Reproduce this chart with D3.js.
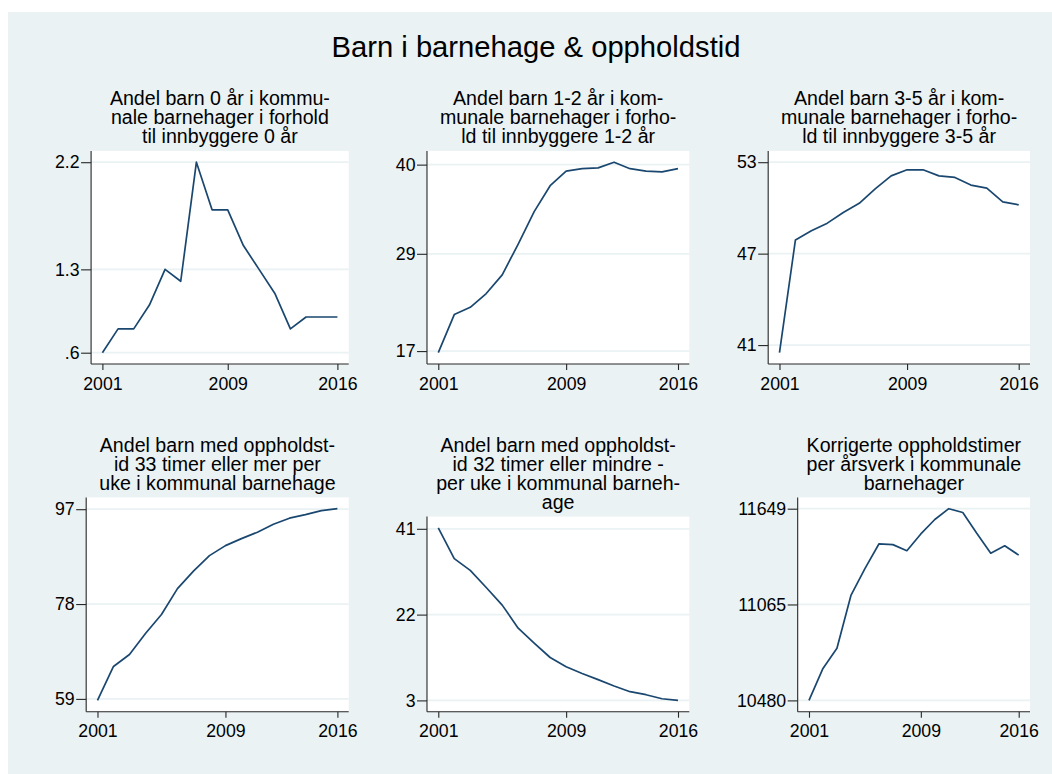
<!DOCTYPE html>
<html><head><meta charset="utf-8">
<script src="https://cdn.jsdelivr.net/npm/d3@7"></script>
<style>body{margin:0;background:#fff}svg text{font-family:"Liberation Sans",Arial,Helvetica,sans-serif;fill:#000}</style>
</head><body><svg id="c" width="1052" height="774"></svg>
<script>
// ---------- data ----------
const years = [2001,2002,2003,2004,2005,2006,2007,2008,2009,2010,2011,2012,2013,2014,2015,2016];
const xTickValues = [2001, 2009, 2016];
const mainTitle = "Barn i barnehage & oppholdstid";

const title0 = ["Andel barn 0 år i kommu-", "nale barnehager i forhold", "til innbyggere 0 år"];
const title1 = ["Andel barn 1-2 år i kom-", "munale barnehager i forho-", "ld til innbyggere 1-2 år"];
const title2 = ["Andel barn 3-5 år i kom-", "munale barnehager i forho-", "ld til innbyggere 3-5 år"];
const title3 = ["Andel barn med oppholdst-", "id 33 timer eller mer per", "uke i kommunal barnehage"];
const title4 = ["Andel barn med oppholdst-", "id 32 timer eller mindre -", "per uke i kommunal barneh-", "age"];
const title5 = ["Korrigerte oppholdstimer", "per årsverk i kommunale", "barnehager"];

const andel0  = [0.6,0.8,0.8,1.0,1.3,1.2,2.2,1.8,1.8,1.5,1.3,1.1,0.8,0.9,0.9,0.9];
const andel12 = [16.8,21.5,22.4,24.1,26.4,30.2,34.2,37.4,39.2,39.5,39.6,40.3,39.5,39.2,39.1,39.5];
const andel35 = [40.5,47.9,48.5,49.0,49.7,50.3,51.25,52.1,52.5,52.5,52.1,52.0,51.5,51.3,50.4,50.2];
const opph33  = [58.7,65.5,67.9,72.1,75.9,81.1,84.6,87.7,89.7,91.1,92.4,94.0,95.2,95.9,96.7,97.1];
const opph32  = [41.2,34.4,31.8,28.0,24.1,19.0,15.7,12.5,10.45,8.96,7.6,6.2,4.93,4.26,3.37,3.0];
const timer   = [10480,10675,10798,11120,11284,11434,11430,11393,11495,11583,11649,11626,11499,11378,11423,11366];

const yTicks0 = [0.6, 1.3, 2.2],      yLabels0 = [".6", "1.3", "2.2"];
const yTicks1 = [17, 29, 40],         yLabels1 = ["17", "29", "40"];
const yTicks2 = [41, 47, 53],         yLabels2 = ["41", "47", "53"];
const yTicks3 = [59, 78, 97],         yLabels3 = ["59", "78", "97"];
const yTicks4 = [3, 22, 41],          yLabels4 = ["3", "22", "41"];
const yTicks5 = [10480, 11065, 11649], yLabels5 = ["10480", "11065", "11649"];

const panels = [
  {title: title0, values: andel0,  ticks: yTicks0, labels: yLabels0},
  {title: title1, values: andel12, ticks: yTicks1, labels: yLabels1},
  {title: title2, values: andel35, ticks: yTicks2, labels: yLabels2},
  {title: title3, values: opph33,  ticks: yTicks3, labels: yLabels3},
  {title: title4, values: opph32,  ticks: yTicks4, labels: yLabels4},
  {title: title5, values: timer,   ticks: yTicks5, labels: yLabels5}
];

// ---------- layout ----------
const svg = d3.select("#c");
const BG = "#EAF2F3", NAVY = "#1A476F", AXIS = "#262626";
const tickFont = 17.7, subFont = 19.6, lineH = 19.2, titleGap = 7.5, pad = 11.3;
const colLeft = [55, 395.8, 737], colRight = [348.7, 689.3, 1030];
const rowFirstBaseline = [105, 451.5], rowBottom = [364, 711.7];

svg.append("rect").attr("x", 8).attr("y", 12).attr("width", 1052 - 8).attr("height", 774 - 12).attr("fill", BG);

svg.append("text").attr("x", 536).attr("y", 56.7).attr("text-anchor", "middle")
  .style("font-size", "29.2px").text(mainTitle);

function measure(str, size) {
  const t = svg.append("text").style("font-size", size + "px").text(str);
  const w = t.node().getComputedTextLength();
  t.remove();
  return w;
}

panels.forEach((p, i) => {
  const c = i % 3, r = Math.floor(i / 3);
  const maxW = d3.max(p.labels, s => measure(s, tickFont));
  const left = colLeft[c] + maxW + 11.5;
  const right = colRight[c];
  const top = rowFirstBaseline[r] + (p.title.length - 1) * lineH + titleGap;
  const bottom = rowBottom[r];
  const g = svg.append("g");

  g.append("rect").attr("x", left).attr("y", top).attr("width", right - left).attr("height", bottom - top).attr("fill", "#fff");

  const x = d3.scaleLinear().domain([years[0], years[years.length - 1]]).range([left + pad, right - pad]);
  const y = d3.scaleLinear().domain(d3.extent(p.values.concat(p.ticks))).range([bottom - pad, top + pad]);

  // grid
  g.selectAll(".grid").data(p.ticks).join("line")
    .attr("x1", left).attr("x2", right)
    .attr("y1", d => y(d)).attr("y2", d => y(d))
    .attr("stroke", BG).attr("stroke-width", 1.8);

  // series line
  g.append("path").datum(years.map((yr, k) => [yr, p.values[k]]))
    .attr("fill", "none").attr("stroke", NAVY).attr("stroke-width", 1.7).attr("stroke-linejoin", "round")
    .attr("d", d3.line().x(d => x(d[0])).y(d => y(d[1])));

  // y axis
  const ya = g.append("g").attr("transform", `translate(${left},0)`)
    .call(d3.axisLeft(y).tickValues(p.ticks).tickFormat((d, k) => p.labels[k]).tickSize(10).tickPadding(1.5).tickSizeOuter(0));
  ya.select(".domain").remove();
  ya.selectAll("line").attr("stroke", AXIS).attr("stroke-width", 1.1);
  ya.selectAll("text").style("font-size", tickFont + "px").attr("fill", "#000").attr("font-family", null);

  // x axis
  const xa = g.append("g").attr("transform", `translate(0,${bottom})`)
    .call(d3.axisBottom(x).tickValues(xTickValues).tickFormat(d3.format("d")).tickSize(6).tickPadding(7).tickSizeOuter(0));
  xa.select(".domain").remove();
  xa.selectAll("line").attr("stroke", AXIS).attr("stroke-width", 1.1);
  xa.selectAll("text").style("font-size", tickFont + "px").attr("fill", "#000").attr("font-family", null);

  // axis lines spanning plot region
  g.append("line").attr("x1", left).attr("x2", left).attr("y1", top).attr("y2", bottom).attr("stroke", AXIS).attr("stroke-width", 1.1);
  g.append("line").attr("x1", left).attr("x2", right).attr("y1", bottom).attr("y2", bottom).attr("stroke", AXIS).attr("stroke-width", 1.1);

  // subtitle (one text element per line)
  p.title.forEach((ln, k) => {
    g.append("text").attr("text-anchor", "middle").style("font-size", subFont + "px")
      .attr("x", (left + right) / 2).attr("y", rowFirstBaseline[r] + k * lineH).text(ln);
  });
});
</script></body></html>
